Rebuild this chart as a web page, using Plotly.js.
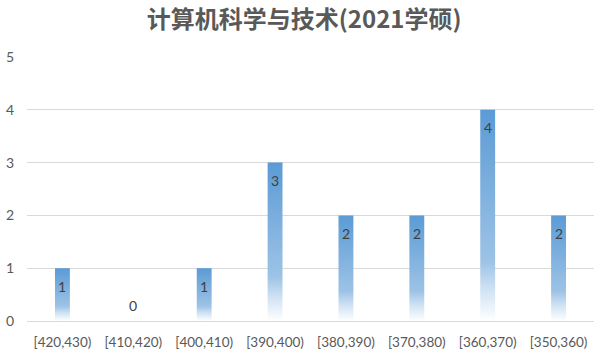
<!DOCTYPE html>
<html>
<head>
<meta charset="utf-8">
<script src="https://cdn.plot.ly/plotly-3.0.1.min.js"></script>
<style>html,body{margin:0;padding:0;background:#fff;}#chart{width:600px;height:356px;}</style>
</head>
<body>
<div id="chart"></div>
<script>
const categories = ["[420,430)", "[410,420)", "[400,410)", "[390,400)", "[380,390)", "[370,380)", "[360,370)", "[350,360)"];
const counts = [1, 0, 1, 3, 2, 2, 4, 2];
const yTicks = [0, 1, 2, 3, 4, 5];
const chartTitle = "计算机科学与技术(2021学硕)";

const labelFont = {family: "Lato, 'Noto Sans', sans-serif", size: 14, color: "#404040"};

const trace = {
  type: "bar",
  x: categories,
  y: counts,
  marker: {color: "#5b9bd5", line: {width: 0}},
  hoverinfo: "none"
};

const annotations = categories.map(function(c, i){
  return {x: c, y: counts[i], xref: "x", yref: "y", text: String(counts[i]), showarrow: false,
          yshift: counts[i] > 0 ? -18 : 16, font: labelFont, xanchor: "center", yanchor: "middle"};
});

const layout = {
  width: 600, height: 356,
  margin: {l: 27, r: 6, t: 57, b: 35},
  paper_bgcolor: "#ffffff", plot_bgcolor: "#ffffff",
  bargap: 0.79,
  showlegend: false,
  annotations: annotations,
  title: {text: chartTitle, x: 0.507, xanchor: "center", y: 0.944, yanchor: "middle",
          font: {family: "'Noto Sans CJK SC', sans-serif", size: 24, color: "#595959", weight: "bold"}},
  xaxis: {type: "category", showgrid: false, zeroline: false, showline: true, linecolor: "#d9d9d9", linewidth: 1,
          ticks: "", ticklabelstandoff: 9, tickfont: {family: "Lato, 'Noto Sans', sans-serif", size: 13.5, color: "#595959"}, fixedrange: true},
  yaxis: {range: [0, 5], tickvals: yTicks, showgrid: true, gridcolor: "#d9d9d9", gridwidth: 1, zeroline: false,
          showline: false, ticks: "", ticklabelstandoff: 12,
          tickfont: {family: "Lato, 'Noto Sans', sans-serif", size: 14, color: "#595959"}, fixedrange: true}
};

Plotly.newPlot("chart", [trace], layout, {staticPlot: true, displayModeBar: false}).then(function(gd){
  const svg = gd.querySelector("svg.main-svg");
  const ns = "http://www.w3.org/2000/svg";
  let defs = svg.querySelector("defs");
  if (!defs) { defs = document.createElementNS(ns, "defs"); svg.insertBefore(defs, svg.firstChild); }
  const g = document.createElementNS(ns, "linearGradient");
  g.setAttribute("id", "barGrad");
  g.setAttribute("x1", "0"); g.setAttribute("y1", "0"); g.setAttribute("x2", "0"); g.setAttribute("y2", "1");
  [["0", "#5b9bd5"], ["0.72", "#9dc3e6"], ["0.85", "#cfe2f3"], ["1", "#ffffff"]].forEach(function(s){
    const st = document.createElementNS(ns, "stop");
    st.setAttribute("offset", s[0]); st.setAttribute("stop-color", s[1]);
    g.appendChild(st);
  });
  defs.appendChild(g);
  gd.querySelectorAll(".bars .point path").forEach(function(p){ p.style.fill = "url(#barGrad)"; });
});
</script>
</body>
</html>
